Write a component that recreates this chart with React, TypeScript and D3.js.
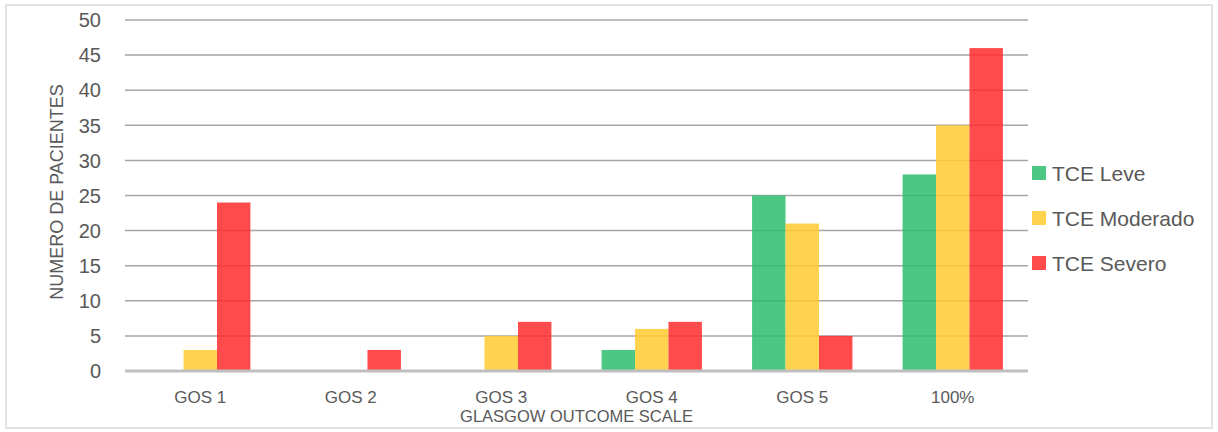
import * as d3 from 'd3'

const categories = ['GOS 1', 'GOS 2', 'GOS 3', 'GOS 4', 'GOS 5', '100%']
const seriesNames = ['TCE Leve', 'TCE Moderado', 'TCE Severo']
const leve = [0, 0, 0, 3, 25, 28]
const moderado = [3, 0, 5, 6, 21, 35]
const severo = [24, 3, 7, 7, 5, 46]
const yTicks = [0, 5, 10, 15, 20, 25, 30, 35, 40, 45, 50]
const colors = ['#2dbd6e', '#ffcb2e', '#ff2c2c']

const W = 1218
const H = 432
const plot = { left: 125, right: 1028, top: 20, bottom: 371 }
const font = '"Liberation Sans", Arial, sans-serif'
const textColor = '#595959'

export default function App() {
  const series = [leve, moderado, severo]

  const x = d3.scaleBand<string>()
    .domain(categories)
    .range([plot.left, plot.right])
    .paddingInner(0)
    .paddingOuter(0)

  // three bars fill the middle two thirds of each category band
  const inner = d3.scaleBand<string>()
    .domain(seriesNames)
    .range([x.bandwidth() / 6, x.bandwidth() * 5 / 6])

  const y = d3.scaleLinear().domain([0, 50]).range([plot.bottom, plot.top])

  return (
    <svg
      width={W}
      height={H}
      style={{ position: 'absolute', left: 0, top: 0, background: '#fff' }}
      fontFamily={font}
    >
      <rect x={6} y={5} width={1206} height={423} fill="#fff" stroke="#d9d9d9" strokeWidth={1.5} />

      {/* grid */}
      {yTicks.filter(t => t > 0).map(t => (
        <line key={t} x1={plot.left} x2={plot.right} y1={y(t)} y2={y(t)} stroke="#a6a6a6" strokeWidth={1.5} />
      ))}

      {/* bars */}
      {series.map((vals, si) => (
        <g key={si}>
          {vals.map((v, ci) => v > 0 && (
            <rect
              key={ci}
              x={(x(categories[ci]) ?? 0) + (inner(seriesNames[si]) ?? 0)}
              y={y(v)}
              width={inner.bandwidth()}
              height={y(0) - y(v)}
              fill={colors[si]}
              fillOpacity={0.85}
            />
          ))}
        </g>
      ))}

      {/* baseline */}
      <line x1={plot.left} x2={plot.right} y1={y(0)} y2={y(0)} stroke="#bfbfbf" strokeWidth={3} />

      {/* y tick labels */}
      {yTicks.map(t => (
        <text key={t} x={101} y={y(t)} dy="0.36em" textAnchor="end" fontSize={20} fill={textColor}>{t}</text>
      ))}

      {/* x tick labels */}
      {categories.map(c => (
        <text key={c} x={(x(c) ?? 0) + x.bandwidth() / 2} y={403} textAnchor="middle" fontSize={17} fill={textColor}>{c}</text>
      ))}

      {/* axis titles */}
      <text
        transform={`translate(63,192) rotate(-90)`}
        textAnchor="middle"
        fontSize={18}
        fill={textColor}
      >NUMERO DE PACIENTES</text>
      <text x={(plot.left + plot.right) / 2} y={422} textAnchor="middle" fontSize={16.5} fill={textColor}>GLASGOW OUTCOME SCALE</text>

      {/* legend */}
      {seriesNames.map((name, i) => (
        <g key={name} transform={`translate(1032,${173 + i * 45})`}>
          <rect x={0} y={-7} width={14} height={14} fill={colors[i]} fillOpacity={0.85} />
          <text x={20} y={0} dy="0.36em" fontSize={21} fill={textColor}>{name}</text>
        </g>
      ))}
    </svg>
  )
}
